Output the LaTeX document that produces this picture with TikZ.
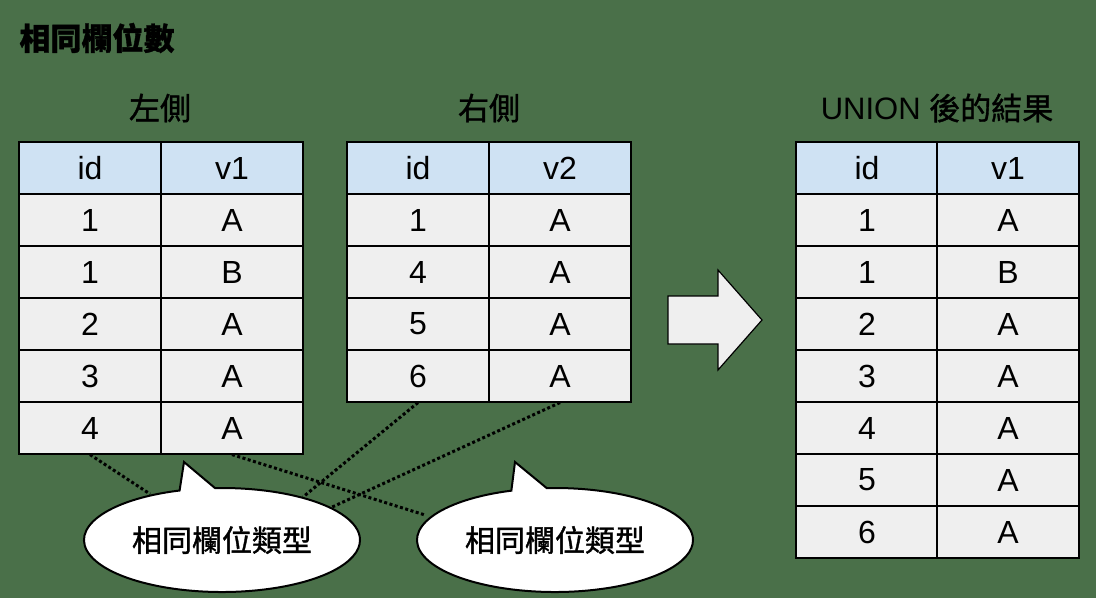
\documentclass[tikz,border=0pt]{standalone}
\usepackage{fontspec}
\setmainfont{Noto Sans CJK TC}[FakeBold=1.2]
\newfontfamily\arial{Liberation Sans}
\usetikzlibrary{shapes.callouts}
\definecolor{bg}{HTML}{4A7049}
\definecolor{hd}{HTML}{CFE2F3}
\definecolor{cl}{HTML}{EFEFEF}
\begin{document}
\begin{tikzpicture}[x=1pt,y=-1pt,
  cell/.style={draw=black,line width=1.2pt,fill=cl,minimum width=142pt,minimum height=52pt,inner sep=0pt,font=\arial\fontsize{32}{34}\selectfont},
  hcell/.style={cell,fill=hd},
  lab/.style={font=\fontsize{31}{34}\selectfont},
  dots/.style={black,line width=3pt,dash pattern=on 3pt off 2.5pt},
  bub/.style={ellipse callout,draw=black,line width=2pt,fill=white,minimum width=276pt,minimum height=104pt,font=\fontsize{30}{32}\selectfont}]
\useasboundingbox[fill=bg] (0,0) rectangle (1096,598);
\node[anchor=west,font=\fontsize{31}{33}\selectfont\bfseries] (title) at (16,38) {相同欄位數};
\node[lab] (lL) at (160,108) {左側};
\node[lab] (lR) at (489,108) {右側};
\node[lab] (lU) at (937,108) {\arial UNION \rmfamily 後的結果};
\foreach \a/\b [count=\i from 0] in {id/v1,1/A,1/B,2/A,3/A,4/A}{
  \ifnum\i=0
   \node[hcell] (L\i a) at (90,168) {\a}; \node[hcell] (L\i b) at (232,168) {\b};
  \else
   \node[cell] (L\i a) at (90,168+52*\i) {\a}; \node[cell] (L\i b) at (232,168+52*\i) {\b};
  \fi}
\foreach \a/\b [count=\i from 0] in {id/v2,1/A,4/A,5/A,6/A}{
  \ifnum\i=0
   \node[hcell] (R\i a) at (418,168) {\a}; \node[hcell] (R\i b) at (560,168) {\b};
  \else
   \node[cell] (R\i a) at (418,168+52*\i) {\a}; \node[cell] (R\i b) at (560,168+52*\i) {\b};
  \fi}
\foreach \a/\b [count=\i from 0] in {id/v1,1/A,1/B,2/A,3/A,4/A,5/A,6/A}{
  \ifnum\i=0
   \node[hcell] (U\i a) at (867,168) {\a}; \node[hcell] (U\i b) at (1008,168) {\b};
  \else
   \node[cell] (U\i a) at (867,168+52*\i) {\a}; \node[cell] (U\i b) at (1008,168+52*\i) {\b};
  \fi}
\draw[black,line width=1.2pt,fill=cl] (668,296) -- (718,296) -- (718,270) -- (762,320) -- (718,370) -- (718,344) -- (668,344) -- cycle;
\node[bub,callout absolute pointer={(184,462)}] (b1) at (222,540) {相同欄位類型};
\node[bub,callout absolute pointer={(515,462)}] (b2) at (555,540) {相同欄位類型};
\coordinate (e1) at (150,494);
\coordinate (e2) at (425,515);
\coordinate (e3) at (303,497);
\coordinate (e4) at (330,508);
\draw[dots] (L5a.south) -- (e1);
\draw[dots] (L5b.south) -- (e2);
\draw[dots] (R4a.south) -- (e3);
\draw[dots] (R4b.south) -- (e4);
\end{tikzpicture}
\end{document}
